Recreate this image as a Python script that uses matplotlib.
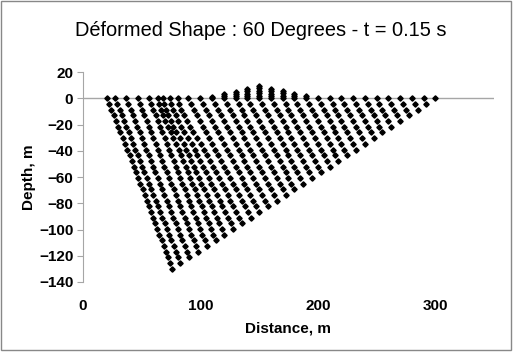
import matplotlib.pyplot as plt
from matplotlib.patches import Rectangle

plt.rcParams['font.family'] = ['Liberation Sans', 'DejaVu Sans']

# depth of each node row (m)
row_y = [0, -4.3, -8.7, -13.0, -17.3, -21.7, -26.0, -30.3, -34.6, -39.0, -43.3,
         -47.6, -52.0, -56.3, -60.6, -65.0, -69.3, -73.6, -77.9, -82.3, -86.6,
         -90.9, -95.3, -99.6, -103.9, -108.3, -112.6, -116.9, -121.2, -125.6, -129.9]

# x of the nodes along each mesh line, top to bottom (m)
lines_x = [
    [20.2, 22.1, 24.1, 26.1, 28.1, 30.0, 31.9, 33.8, 35.8, 37.6, 39.6, 41.4, 43.4, 45.2, 47.1, 48.9,
     50.8, 52.6, 54.4, 56.2, 58.0, 59.8, 61.6, 63.4, 65.1, 67.0, 68.7, 70.5, 72.1, 73.9, 75.6],
    [27.3, 29.2, 31.1, 33.1, 35.0, 36.9, 38.8, 40.7, 42.7, 44.6, 46.5, 48.4, 50.4, 52.3, 54.2, 56.1,
     58.0, 60.0, 61.9, 63.8, 65.7, 67.6, 69.6, 71.5, 73.4, 75.3, 77.2, 79.2, 81.1, 83.0],
    [36.6, 38.5, 40.5, 42.4, 44.3, 46.2, 48.2, 50.1, 52.0, 53.9, 55.9, 57.8, 59.7, 61.6, 63.6, 65.5,
     67.4, 69.3, 71.3, 73.2, 75.1, 77.0, 79.0, 80.9, 82.8, 84.7, 86.7, 88.6, 90.5],
    [46.6, 48.5, 50.4, 52.3, 54.2, 56.1, 58.0, 59.9, 61.8, 63.7, 65.6, 67.5, 69.4, 71.4, 73.3, 75.2,
     77.1, 79.0, 80.9, 82.8, 84.7, 86.6, 88.5, 90.4, 92.3, 94.2, 96.1, 98.0],
    [56.2, 58.1, 60.0, 61.9, 63.8, 65.7, 67.6, 69.5, 71.4, 73.3, 75.2, 77.1, 78.9, 80.9, 82.7, 84.6,
     86.5, 88.4, 90.3, 92.2, 94.1, 96.0, 97.9, 99.8, 101.7, 103.6, 105.5],
    [63.6, 64.8, 66.3, 68.0, 70.0, 72.2, 74.6, 77.0, 79.4, 81.4, 83.4, 85.3, 87.3, 89.3, 91.3, 93.2,
     95.2, 97.2, 99.2, 101.1, 103.1, 105.1, 107.1, 109.0, 111.0, 113.0],
    [68.1, 69.3, 70.8, 72.6, 74.7, 77.0, 79.6, 82.5, 85.6, 87.7, 89.9, 92.1, 94.3, 96.5, 98.7, 100.8,
     103.0, 105.2, 107.4, 109.6, 111.8, 113.9, 116.1, 118.3, 120.5],
    [74.1, 75.3, 76.9, 78.8, 81.0, 83.5, 86.3, 89.4, 92.8, 95.2, 97.5, 99.9, 102.2, 104.6, 106.9, 109.2,
     111.6, 113.9, 116.3, 118.6, 121.0, 123.3, 125.7, 128.0],
    [80.7, 82.0, 83.7, 85.8, 88.2, 90.9, 93.9, 97.0, 100.6, 103.1, 105.6, 108.1, 110.6, 113.1, 115.6,
     118.1, 120.6, 123.1, 125.5, 128.0, 130.5, 133.0, 135.5],
    [89.4, 92.0, 94.5, 97.1, 99.6, 102.2, 104.7, 107.3, 109.8, 112.4, 114.9, 117.5, 120.0, 122.6, 125.1,
     127.7, 130.2, 132.8, 135.3, 137.9, 140.4, 143.0],
    [100, 102.5, 105, 107.5, 110, 112.5, 115, 117.5, 120, 122.5, 125, 127.5, 130, 132.5, 135, 137.5,
     140, 142.5, 145, 147.5, 150],
    [110, 112.5, 115, 117.5, 120, 122.5, 125, 127.5, 130, 132.5, 135, 137.5, 140, 142.5, 145, 147.5,
     150, 152.5, 155, 157.5],
    [120, 122.5, 125, 127.5, 130, 132.5, 135, 137.5, 140, 142.5, 145, 147.5, 150, 152.5, 155, 157.5,
     160, 162.5, 165],
    [130, 132.5, 135, 137.5, 140, 142.5, 145, 147.5, 150, 152.5, 155, 157.5, 160, 162.5, 165, 167.5,
     170, 172.5],
    [140, 142.5, 145, 147.5, 150, 152.5, 155, 157.5, 160, 162.5, 165, 167.5, 170, 172.5, 175, 177.5, 180],
    [150, 152.5, 155, 157.5, 160, 162.5, 165, 167.5, 170, 172.5, 175, 177.5, 180, 182.5, 185, 187.5],
    [160, 162.5, 165, 167.5, 170, 172.5, 175, 177.5, 180, 182.5, 185, 187.5, 190, 192.5, 195],
    [170, 172.5, 175, 177.5, 180, 182.5, 185, 187.5, 190, 192.5, 195, 197.5, 200, 202.5],
    [180, 182.5, 185, 187.5, 190, 192.5, 195, 197.5, 200, 202.5, 205, 207.5, 210],
    [190, 192.5, 195, 197.5, 200, 202.5, 205, 207.5, 210, 212.5, 215, 217.5],
    [200, 202.5, 205, 207.5, 210, 212.5, 215, 217.5, 220, 222.5, 225],
    [210, 212.5, 215, 217.5, 220, 222.5, 225, 227.5, 230, 232.5],
    [220, 222.5, 225, 227.5, 230, 232.5, 235, 237.5, 240],
    [230, 232.5, 235, 237.5, 240, 242.5, 245, 247.5],
    [240, 242.5, 245, 247.5, 250, 252.5, 255],
    [250, 252.5, 255, 257.5, 260, 262.5],
    [260, 262.5, 265, 267.5, 270],
    [270, 272.5, 275, 277.5],
    [280, 282.5, 285],
    [290, 292.5],
    [300],
]

# nodes heaved above the ground surface
lift_x = [110, 120, 120, 130, 130, 130, 140, 140, 140, 140, 150, 150, 150, 150, 150,
          160, 160, 160, 160, 170, 170, 170, 180, 180, 190]
lift_y = [1.0, 1.5, 3.3, 1.7, 3.4, 5.1, 1.8, 3.6, 5.4, 7.1, 1.9, 3.9, 5.8, 7.8, 9.7,
          1.8, 3.6, 5.4, 7.1, 2.0, 4.0, 5.9, 1.6, 3.3, 2.1]

fig = plt.figure(figsize=(5.14, 3.52), dpi=100)
ax = fig.add_axes([0.1615, 0.199, 0.7995, 0.596])

for xs in lines_x:
    ax.plot(xs, row_y[:len(xs)], ls='none', marker='D', ms=2.7, color='black', zorder=3)
ax.plot(lift_x, lift_y, ls='none', marker='D', ms=2.7, color='black', zorder=3)

ax.axhline(0, color='#a6a6a6', lw=1.0, zorder=1)
ax.set_xlim(0, 350)
ax.set_ylim(-140, 20)
for s in ['top', 'right', 'bottom']:
    ax.spines[s].set_visible(False)
ax.spines['left'].set_color('#a6a6a6')

ax.set_xticks([0, 100, 200, 300])
ax.set_yticks(list(range(-140, 21, 20)))
ax.tick_params(axis='x', length=0, pad=12, labelsize=11)
ax.tick_params(axis='y', length=4, color='#a6a6a6', labelsize=11, pad=3)
for lab in ax.get_xticklabels() + ax.get_yticklabels():
    lab.set_fontweight('bold')

ax.set_xlabel('Distance, m', fontsize=11, fontweight='bold')
ax.xaxis.set_label_coords(0.5, -0.19)
ax.set_ylabel('Depth, m', fontsize=11, fontweight='bold')
ax.yaxis.set_label_coords(-0.114, 0.5)

fig.text(0.507, 0.912, 'Déformed Shape : 60 Degrees - t = 0.15 s', fontsize=14.4,
         ha='center', va='center')

fig.patches.append(Rectangle((1 / 514, 2 / 352), 510 / 514, 349 / 352, transform=fig.transFigure,
                             fill=False, edgecolor='#888888', lw=1))

fig.savefig('out.png', dpi=100)
